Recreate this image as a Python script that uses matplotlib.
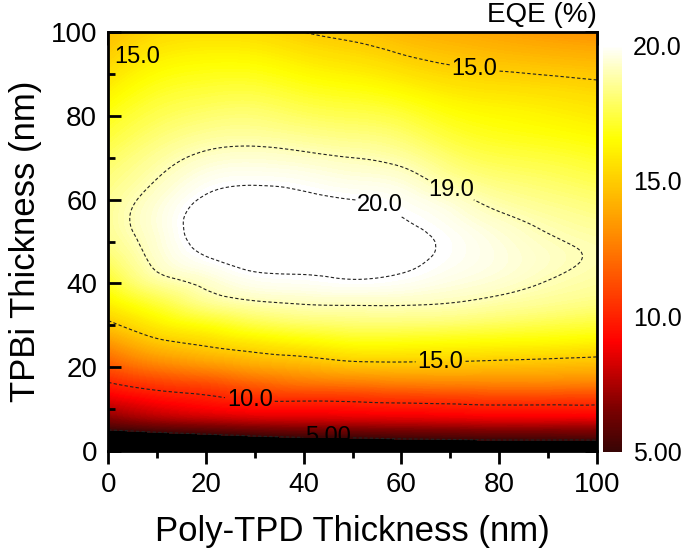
import numpy as np
import matplotlib
matplotlib.use("Agg")
import matplotlib.pyplot as plt
import matplotlib.tri as mtri
from matplotlib.colors import LinearSegmentedColormap, Normalize

plt.rcParams['font.family'] = ['Liberation Sans', 'DejaVu Sans']

# grid
poly_tpd_nm = [0, 10, 20, 30, 40, 50, 60, 70, 80, 90, 100]
tpbi_nm = [0, 2.5, 5, 7.5, 10, 15, 20, 25, 30, 35, 40, 45, 50, 55, 60, 65, 70, 75, 80, 90, 100]

# EQE (%) columns, one list per Poly-TPD thickness, values along TPBi thickness
eqe_cols = [
    [1.0, 3.0, 5.0, 6.5, 7.6, 9.5, 11.3, 13.0, 14.7, 16.0, 17.0, 17.8, 18.4, 18.6, 18.5, 18.2, 17.8, 17.3, 16.8, 15.6, 14.5],
    [1.2, 3.5, 5.4, 7.2, 8.4, 10.2, 12.4, 14.4, 15.9, 17.2, 18.5, 19.2, 19.4, 19.5, 19.35, 19.0, 18.6, 18.1, 17.6, 16.5, 15.3],
    [1.4, 3.9, 5.7, 7.6, 8.9, 10.6, 13.0, 15.0, 16.6, 18.3, 19.2, 19.85, 20.25, 20.35, 20.1, 19.7, 19.2, 18.6, 18.0, 16.8, 15.5],
    [1.5, 4.2, 6.0, 7.9, 9.2, 11.2, 13.6, 15.5, 17.3, 18.8, 19.7, 20.2, 20.45, 20.5, 20.3, 19.85, 19.35, 18.7, 18.1, 16.8, 15.4],
    [1.6, 4.4, 6.2, 8.0, 9.2, 11.6, 14.0, 15.9, 17.7, 19.0, 19.8, 20.2, 20.4, 20.4, 20.15, 19.75, 19.2, 18.5, 17.8, 16.4, 15.0],
    [1.7, 4.5, 6.3, 8.1, 9.3, 11.7, 14.4, 16.3, 17.9, 19.05, 19.9, 20.2, 20.3, 20.25, 20.0, 19.55, 19.0, 18.3, 17.6, 16.1, 14.7],
    [1.8, 4.7, 6.4, 8.2, 9.4, 11.9, 14.5, 16.3, 17.9, 19.05, 19.8, 20.1, 20.15, 20.03, 19.8, 19.35, 18.7, 18.0, 17.3, 15.7, 14.3],
    [1.9, 4.8, 6.5, 8.3, 9.5, 12.0, 14.5, 16.2, 17.8, 18.95, 19.55, 19.85, 19.9, 19.7, 19.3, 18.6, 17.95, 17.3, 16.7, 15.3, 14.0],
    [2.0, 4.9, 6.6, 8.4, 9.6, 12.1, 14.4, 16.1, 17.6, 18.7, 19.3, 19.55, 19.5, 19.2, 18.7, 18.1, 17.5, 16.9, 16.4, 15.1, 13.7],
    [2.0, 4.9, 6.6, 8.4, 9.6, 12.1, 14.3, 16.0, 17.4, 18.45, 18.95, 19.2, 19.1, 18.8, 18.35, 17.85, 17.3, 16.7, 16.2, 14.95, 13.4],
    [2.0, 4.95, 6.6, 8.4, 9.6, 12.0, 14.2, 15.8, 17.2, 18.2, 18.7, 18.9, 18.85, 18.5, 18.05, 17.55, 17.0, 16.45, 15.95, 14.8, 13.2],
]

line_levels = [5, 10, 15, 19, 20]
line_fmt = {5: '5.00', 10: '10.0', 15: '15.0', 19: '19.0', 20: '20.0'}
cbar_ticks = [5, 10, 15, 20]
cbar_labels = ['5.00', '10.0', '15.0', '20.0']

X, Y = np.meshgrid(poly_tpd_nm, tpbi_nm)
Z = np.array(eqe_cols).T

# regular triangulation of the grid, then smooth cubic refinement by matplotlib
nx, ny = len(poly_tpd_nm), len(tpbi_nm)
tris = []
for j in range(ny - 1):
    for i in range(nx - 1):
        k = j * nx + i
        tris.append([k, k + 1, k + nx + 1])
        tris.append([k, k + nx + 1, k + nx])
tri = mtri.Triangulation(X.ravel(), Y.ravel(), tris)
refiner = mtri.UniformTriRefiner(tri)
tri_f, z_f = refiner.refine_field(Z.ravel(), subdiv=3)

cmap = LinearSegmentedColormap.from_list('eqe', [
    (0.0, (0.22, 0.02, 0.02)),
    (0.11, (0.5, 0.0, 0.0)),
    (0.27, (1.0, 0.0, 0.0)),
    (0.51, (1.0, 0.5, 0.0)),
    (0.77, (1.0, 1.0, 0.0)),
    (1.0, (1.0, 1.0, 1.0)),
])
cmap.set_under('black')
cmap.set_over('white')
norm = Normalize(5, 20)

fig = plt.figure(figsize=(6.85, 5.49), dpi=100)
ax = fig.add_axes([0.158, 0.1785, 0.7135, 0.7632])

cf = ax.tricontourf(tri_f, z_f, levels=np.linspace(5, 20, 151), cmap=cmap, norm=norm, extend='both')
cf.set_edgecolor('face')
cf.set_linewidth(0.3)

cs = ax.tricontour(tri_f, z_f, levels=line_levels, colors='#222222', linewidths=0.8,
                   linestyles=[(0, (3, 2))])
labels = ax.clabel(cs, fmt=line_fmt, fontsize=17, colors='black', inline=True, inline_spacing=2,
                   manual=[(3, 97), (75, 92), (70, 62), (55, 57), (68, 21.7), (29, 12.6), (45, 3.5)])
for t in labels:
    t.set_rotation(0)
    x, y = t.get_position()
    if x < 10 and y > 90:
        t.set_position((6, 94))

ax.set_xlim(0, 100)
ax.set_ylim(0, 100)
ax.set_xticks([0, 20, 40, 60, 80, 100])
ax.set_yticks([0, 20, 40, 60, 80, 100])
ax.set_xticks([10, 30, 50, 70, 90], minor=True)
ax.set_yticks([10, 30, 50, 70, 90], minor=True)
ax.tick_params(axis='both', which='major', labelsize=20, width=2, length=9)
ax.tick_params(axis='both', which='minor', width=2, length=5)
ax.tick_params(axis='x', which='both', direction='out', top=False, pad=6)
ax.tick_params(axis='y', which='both', direction='in', right=False, pad=8)
for s in ax.spines.values():
    s.set_linewidth(2)
    s.set_zorder(5)

# inward ticks on top and right
axt = ax.secondary_xaxis('top')
axt.set_xticks([0, 20, 40, 60, 80, 100])
axt.set_xticks([10, 30, 50, 70, 90], minor=True)
axt.tick_params(which='major', direction='in', width=2, length=9, labeltop=False)
axt.tick_params(which='minor', direction='in', width=2, length=5)
axr = ax.secondary_yaxis('right')
axr.set_yticks([0, 20, 40, 60, 80, 100])
axr.set_yticks([10, 30, 50, 70, 90], minor=True)
axr.tick_params(which='major', direction='in', width=2, length=9, labelright=False)
axr.tick_params(which='minor', direction='in', width=2, length=5)

ax.set_xlabel('Poly-TPD Thickness (nm)', fontsize=25, labelpad=12)
ax.set_ylabel('TPBi Thickness (nm)', fontsize=25, labelpad=6)

cax = fig.add_axes([0.880, 0.1767, 0.028, 0.7413])
sm = plt.cm.ScalarMappable(norm=norm, cmap=cmap)
cb = fig.colorbar(sm, cax=cax)
cb.outline.set_visible(False)
cb.set_ticks(cbar_ticks)
cb.set_ticklabels(cbar_labels)
cax.tick_params(length=0, labelsize=18, pad=8)
fig.text(0.872, 0.973, 'EQE (%)', ha='right', va='center', fontsize=20)

fig.savefig('out.png', dpi=100)
